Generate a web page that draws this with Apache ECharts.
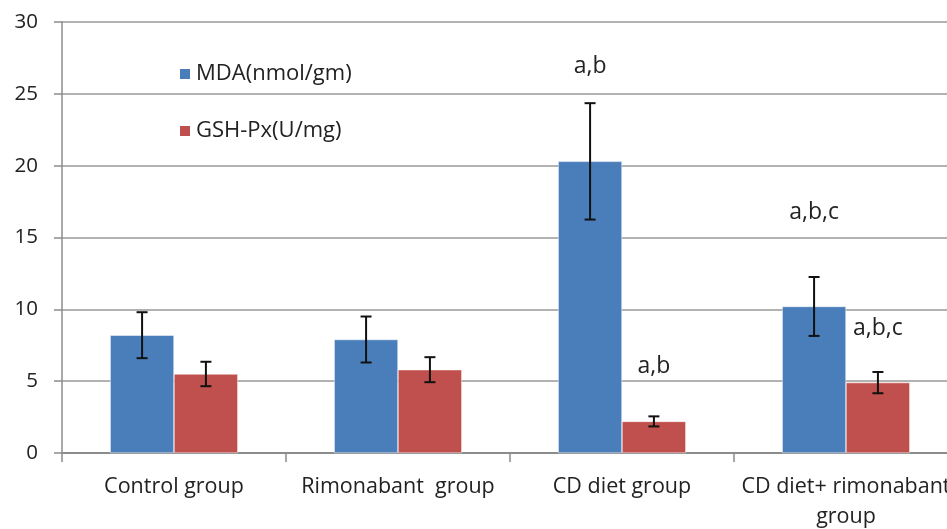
<!DOCTYPE html>
<html>
<head>
<meta charset="utf-8">
<script src="https://cdn.jsdelivr.net/npm/echarts@6/dist/echarts.min.js"></script>
<style>
html, body { margin: 0; padding: 0; background: #fff; overflow: hidden; }
#chart { width: 958px; height: 529px; }
</style>
</head>
<body>
<div id="chart"></div>
<script>
// data
var groups = ['Control group', 'Rimonabant  group', 'CD diet group', 'CD diet+ rimonabant\ngroup'];
var mdaValues = [8.2, 7.9, 20.3, 10.2];
var mdaErr = [1.6, 1.6, 4.05, 2.05];
var gshValues = [5.5, 5.8, 2.2, 4.9];
var gshErr = [0.85, 0.87, 0.35, 0.74];
var mdaSig = ['', '', 'a,b', 'a,b,c'];
var gshSig = ['', '', 'a,b', 'a,b,c'];
var yTicks = [0, 5, 10, 15, 20, 25, 30];

var catGap = 0.43;
var font = '"Open Sans", "Liberation Sans", sans-serif';

function errData(vals, errs) {
	return vals.map(function (v, i) { return [i, v - errs[i], v + errs[i]]; });
}

function errSeries(name, vals, errs, side) {
	return {
		type: 'custom',
		name: name + ' err',
		data: errData(vals, errs),
		encode: { x: 0, y: [1, 2] },
		z: 5,
		silent: true,
		renderItem: function (params, api) {
			var i = api.value(0);
			var lo = api.coord([i, api.value(1)]);
			var hi = api.coord([i, api.value(2)]);
			var band = api.size([1, 0])[0];
			var bw = band * (1 - catGap) / 2;
			var x = lo[0] + side * bw / 2;
			var cap = 5.5;
			var st = { stroke: '#111', lineWidth: 2 };
			return {
				type: 'group',
				children: [
					{ type: 'line', shape: { x1: x, y1: lo[1], x2: x, y2: hi[1] }, style: st },
					{ type: 'line', shape: { x1: x - cap, y1: lo[1], x2: x + cap, y2: lo[1] }, style: st },
					{ type: 'line', shape: { x1: x - cap, y1: hi[1], x2: x + cap, y2: hi[1] }, style: st }
				]
			};
		}
	};
}

function barData(vals, sig) {
	return vals.map(function (v, i) { return { value: v, sig: sig[i] }; });
}

var chart = echarts.init(document.getElementById('chart'));
var option = {
	animation: false,
	textStyle: { fontFamily: font },
	color: ['#4A7EBB', '#C0504D'],
	grid: { left: 62, top: 22, right: 0, bottom: 76, outerBoundsMode: 'none' },
	legend: {
		orient: 'vertical',
		left: 173,
		top: 58,
		itemWidth: 12,
		itemHeight: 12,
		itemGap: 35,
		icon: 'rect',
		textStyle: { fontSize: 22, color: '#222', fontFamily: font },
		data: ['MDA(nmol/gm)', 'GSH-Px(U/mg)']
	},
	xAxis: {
		type: 'category',
		data: groups,
		axisLine: { lineStyle: { color: '#8c8c8c', width: 2 } },
		axisTick: { show: true, length: 9, lineStyle: { color: '#8c8c8c', width: 1.5 } },
		axisLabel: { fontSize: 21.5, color: '#222', margin: 19, lineHeight: 30, interval: 0 }
	},
	yAxis: {
		type: 'value',
		min: yTicks[0],
		max: yTicks[yTicks.length - 1],
		interval: 5,
		axisLine: { show: true, lineStyle: { color: '#8c8c8c', width: 1.5 } },
		axisTick: { show: true, length: 8, lineStyle: { color: '#8c8c8c', width: 1.5 } },
		axisLabel: { fontSize: 20.5, color: '#222', margin: 24 },
		splitLine: { lineStyle: { color: '#999', width: 1.5 } }
	},
	series: [
		{
			type: 'bar',
			name: 'MDA(nmol/gm)',
			data: barData(mdaValues, mdaSig),
			barGap: '0%',
			barCategoryGap: (catGap * 100) + '%',
			itemStyle: { borderColor: '#fff', borderWidth: 0.5 },
			label: {
				show: true, position: 'top', distance: 83,
				fontSize: 23, color: '#222',
				formatter: function (p) { return p.data.sig; }
			}
		},
		{
			type: 'bar',
			name: 'GSH-Px(U/mg)',
			data: barData(gshValues, gshSig),
			barGap: '0%',
			barCategoryGap: (catGap * 100) + '%',
			itemStyle: { borderColor: '#fff', borderWidth: 0.5 },
			label: {
				show: true, position: 'top', distance: 43,
				fontSize: 23, color: '#222',
				formatter: function (p) { return p.data.sig; }
			}
		},
		errSeries('MDA', mdaValues, mdaErr, -1),
		errSeries('GSH', gshValues, gshErr, 1)
	]
};
chart.setOption(option);
</script>
</body>
</html>
